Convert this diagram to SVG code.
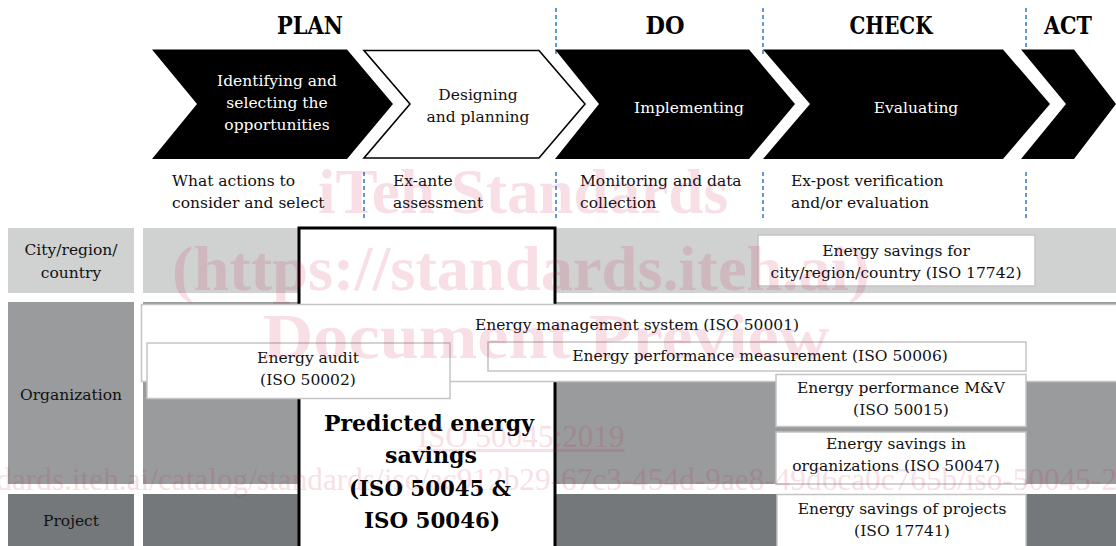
<svg xmlns="http://www.w3.org/2000/svg" width="1116" height="546" viewBox="0 0 1116 546">
<defs>
<style>
.t{font-family:"DejaVu Serif","Liberation Serif",serif;font-size:15.5px;fill:#111;}
.c{text-anchor:middle;}
.w{fill:#fff;}
.h{font-family:"DejaVu Serif","Liberation Serif",serif;font-size:24px;font-weight:bold;fill:#000;text-anchor:middle;}
.pb{font-family:"DejaVu Serif","Liberation Serif",serif;font-size:22px;font-weight:bold;fill:#000;text-anchor:middle;}
.box{fill:#fff;stroke:#c4c4c4;stroke-width:1.5;}
.dash{stroke:#2f78c0;stroke-width:1.5;stroke-dasharray:4 3;fill:none;}
.wm{font-family:"Liberation Serif","Times New Roman",serif;fill:#c8103c;opacity:0.13;}
</style>
</defs>

<g id="headings">
<text class="h" x="310" y="34" textLength="66" lengthAdjust="spacingAndGlyphs">PLAN</text>
<text class="h" x="665" y="34" textLength="39" lengthAdjust="spacingAndGlyphs">DO</text>
<text class="h" x="891" y="34" textLength="83" lengthAdjust="spacingAndGlyphs">CHECK</text>
<text class="h" x="1068" y="34" textLength="48" lengthAdjust="spacingAndGlyphs">ACT</text>
</g>

<g id="connectors">
<line class="dash" x1="556" y1="8" x2="556" y2="56"/>
<line class="dash" x1="763" y1="8" x2="763" y2="56"/>
<line class="dash" x1="1026" y1="8" x2="1026" y2="56"/>
<line class="dash" x1="364" y1="172" x2="364" y2="220"/>
<line class="dash" x1="556" y1="172" x2="556" y2="220"/>
<line class="dash" x1="763" y1="172" x2="763" y2="220"/>
<line class="dash" x1="1026" y1="172" x2="1026" y2="220"/>
</g>

<g id="chevron-identify">
<polygon points="152,49.5 347,49.5 393,104 347,159 152,159 197,104" fill="#000"/>
<text class="t c w" x="277" y="86">Identifying and</text>
<text class="t c w" x="277" y="108">selecting the</text>
<text class="t c w" x="277" y="130">opportunities</text>
</g>
<g id="chevron-design">
<polygon points="364,50.5 539,50.5 585,104 539,158 364,158 410,104" fill="#fff" stroke="#000" stroke-width="1.6"/>
<text class="t c" x="478" y="100">Designing</text>
<text class="t c" x="478" y="122">and planning</text>
</g>
<g id="chevron-implement">
<polygon points="555,49.5 749,49.5 795,104 749,159 555,159 599,104" fill="#000"/>
<text class="t c w" x="689" y="113">Implementing</text>
</g>
<g id="chevron-evaluate">
<polygon points="763,49.5 1003,49.5 1050,104 1003,159 763,159 810,104" fill="#000"/>
<text class="t c w" x="916" y="113">Evaluating</text>
</g>
<g id="chevron-act">
<polygon points="1021,49.5 1074,49.5 1116,104 1074,159 1021,159 1066,104" fill="#000"/>
</g>

<g id="phase-notes">
<text class="t" x="172" y="186">What actions to</text>
<text class="t" x="172" y="208">consider and select</text>
<text class="t" x="393" y="186">Ex-ante</text>
<text class="t" x="393" y="208">assessment</text>
<text class="t" x="580" y="186">Monitoring and data</text>
<text class="t" x="580" y="208">collection</text>
<text class="t" x="791" y="186">Ex-post verification</text>
<text class="t" x="791" y="208">and/or evaluation</text>
</g>

<g id="row-city">
<rect x="8" y="228" width="126" height="65" fill="#d0d1d1"/>
<rect x="143" y="228" width="973" height="65" fill="#d0d1d1"/>
<text class="t c" x="71" y="255">City/region/</text>
<text class="t c" x="71" y="278">country</text>
</g>
<g id="row-organization">
<rect x="8" y="302" width="126" height="182" fill="#999b9c"/>
<rect x="143" y="302" width="973" height="182" fill="#999b9c"/>
<text class="t c" x="71" y="400">Organization</text>
</g>
<g id="row-project">
<rect x="8" y="494" width="126" height="52" fill="#75787a"/>
<rect x="143" y="494" width="973" height="52" fill="#75787a"/>
<text class="t c" x="71" y="526">Project</text>
</g>

<g id="predicted">
<rect x="299" y="228" width="256" height="330" fill="#fff" stroke="#000" stroke-width="3"/>
</g>

<g id="iso17742">
<rect class="box" x="758" y="235" width="277" height="51"/>
<text class="t c" x="896" y="256">Energy savings  for</text>
<text class="t c" x="896" y="278">city/region/country (ISO 17742)</text>
</g>

<g id="iso50001">
<rect class="box" x="141.5" y="304.5" width="980" height="77"/>
<text class="t c" x="637" y="330">Energy management system (ISO 50001)</text>
</g>
<g id="iso50006">
<rect class="box" x="488" y="342" width="538" height="29"/>
<text class="t c" x="760" y="361">Energy performance measurement (ISO 50006)</text>
</g>
<g id="iso50002">
<rect class="box" x="147" y="343" width="303" height="55.5"/>
<text class="t c" x="308" y="363">Energy audit</text>
<text class="t c" x="308" y="385">(ISO 50002)</text>
</g>

<g id="iso50015">
<rect class="box" x="776" y="374.5" width="250" height="52"/>
<text class="t c" x="901" y="393">Energy performance M&amp;V</text>
<text class="t c" x="901" y="415">(ISO 50015)</text>
</g>
<g id="iso50047">
<rect class="box" x="776" y="432" width="250" height="52"/>
<text class="t c" x="896" y="449">Energy savings in</text>
<text class="t c" x="896" y="471">organizations (ISO 50047)</text>
</g>
<g id="iso17741">
<rect class="box" x="777" y="494.5" width="249" height="60"/>
<text class="t c" x="902" y="514">Energy savings of projects</text>
<text class="t c" x="902" y="536">(ISO 17741)</text>
</g>

<g id="predicted-label">
<text class="pb" x="429" y="431" textLength="210" lengthAdjust="spacingAndGlyphs">Predicted energy</text>
<text class="pb" x="431" y="463" textLength="92" lengthAdjust="spacingAndGlyphs">savings</text>
<text class="pb" x="430" y="496" textLength="162" lengthAdjust="spacingAndGlyphs">(ISO 50045 &amp;</text>
<text class="pb" x="432" y="528" textLength="136" lengthAdjust="spacingAndGlyphs">ISO 50046)</text>
</g>

<g id="watermark">
<text class="wm" x="523" y="213" font-size="64" font-weight="bold" text-anchor="middle" textLength="410" lengthAdjust="spacingAndGlyphs">iTeh Standards</text>
<text class="wm" x="521" y="290" font-size="64" font-weight="bold" text-anchor="middle" textLength="698" lengthAdjust="spacingAndGlyphs">(https://standards.iteh.ai)</text>
<text class="wm" x="546" y="358" font-size="64" font-weight="bold" text-anchor="middle" textLength="567" lengthAdjust="spacingAndGlyphs">Document Preview</text>
<text class="wm" x="521" y="447" font-size="31" text-anchor="middle" textLength="207" lengthAdjust="spacingAndGlyphs" text-decoration="underline">ISO 50045:2019</text>
<text class="wm" x="-141" y="490" font-size="31" textLength="1305" lengthAdjust="spacingAndGlyphs">https://standards.iteh.ai/catalog/standards/iso/ac912b29-67c3-454d-9ae8-49d6ca0c765b/iso-50045-2019</text>
</g>
</svg>
